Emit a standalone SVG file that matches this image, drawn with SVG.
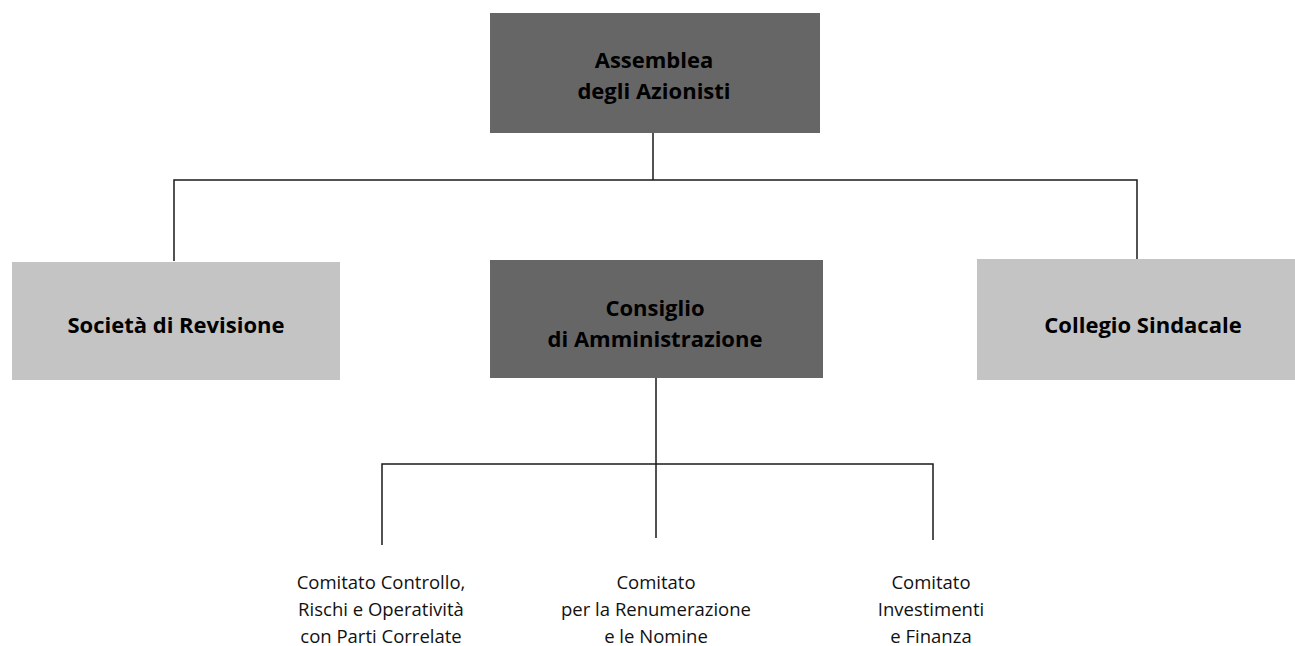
<svg xmlns="http://www.w3.org/2000/svg" width="1295" height="646" viewBox="0 0 1295 646">
<style>
.dark{fill:#666666;}
.light{fill:#c4c4c4;}
.b{font-family:"Open Sans","Noto Sans","DejaVu Sans",sans-serif;font-weight:bold;font-size:22px;fill:#000;text-anchor:middle;}
.r{font-family:"Open Sans","Noto Sans","DejaVu Sans",sans-serif;font-size:18.5px;fill:#111;text-anchor:middle;}
.c{fill:none;stroke:#1a1a1a;stroke-width:1.5;}
</style>
<rect width="1295" height="646" fill="#ffffff"/>
<g id="connectors">
<path class="c" d="M653,133 V180 M174,261 V180 H1137 V259"/>
<path class="c" d="M656,378 V538 M382,545 V464 H933 V540"/>
</g>
<g id="assemblea">
<rect class="dark" x="490" y="13" width="330" height="120"/>
<text class="b" x="654" y="68">Assemblea</text>
<text class="b" x="654" y="99">degli Azionisti</text>
</g>
<g id="revisione">
<rect class="light" x="12" y="262" width="328" height="118"/>
<text class="b" x="176" y="333">Società di Revisione</text>
</g>
<g id="consiglio">
<rect class="dark" x="490" y="260" width="333" height="118"/>
<text class="b" x="655" y="316">Consiglio</text>
<text class="b" x="655" y="347">di Amministrazione</text>
</g>
<g id="sindacale">
<rect class="light" x="977" y="259" width="318" height="121"/>
<text class="b" x="1143" y="333">Collegio Sindacale</text>
</g>
<g id="comitato-controllo">
<text class="r" x="381" y="589">Comitato Controllo,</text>
<text class="r" x="381" y="616">Rischi e Operatività</text>
<text class="r" x="381" y="643">con Parti Correlate</text>
</g>
<g id="comitato-remunerazione">
<text class="r" x="656" y="589">Comitato</text>
<text class="r" x="656" y="616">per la Renumerazione</text>
<text class="r" x="656" y="643">e le Nomine</text>
</g>
<g id="comitato-investimenti">
<text class="r" x="931" y="589">Comitato</text>
<text class="r" x="931" y="616">Investimenti</text>
<text class="r" x="931" y="643">e Finanza</text>
</g>
</svg>
